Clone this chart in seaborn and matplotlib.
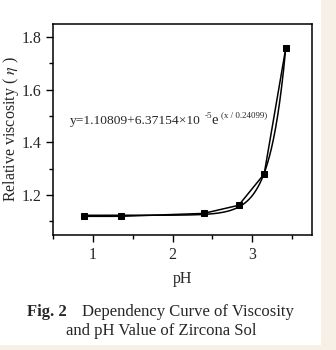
import numpy as np
import pandas as pd
import matplotlib
matplotlib.use("Agg")
import matplotlib.pyplot as plt
from matplotlib.patches import Rectangle
from matplotlib.ticker import MultipleLocator
import seaborn as sns

# data
ph = [0.89, 1.35, 2.39, 2.83, 3.15, 3.42]
viscosity = [1.119, 1.119, 1.130, 1.161, 1.280, 1.757]
x_ticks = [1, 2, 3]
y_ticks = [1.2, 1.4, 1.6, 1.8]
eq_main = "y=1.10809+6.37154\u00d710"
eq_pow = "-5"
eq_e = "e"
eq_exp = "(x / 0.24099)"

sns.set_style("ticks")
plt.rcParams["font.family"] = ["Liberation Serif", "DejaVu Serif"]
plt.rcParams["mathtext.fontset"] = "stix"
plt.rcParams["mathtext.default"] = "regular"

df = pd.DataFrame({"pH": ph, "visc": viscosity})

# exponential-growth fit y = y0 + A*exp(x/t) from the data
xa = np.array(ph); ya = np.array(viscosity)
best = None
for t in np.linspace(0.05, 1.0, 2000):
    M = np.column_stack([np.ones_like(xa), np.exp(xa / t)])
    coef, *_ = np.linalg.lstsq(M, ya, rcond=None)
    sse = np.sum((M @ coef - ya) ** 2)
    if best is None or sse < best[0]:
        best = (sse, t, coef)
_, tb, cb = best
xf = np.linspace(xa.min(), xa.max(), 200)
fit = pd.DataFrame({"pH": xf, "visc": cb[0] + cb[1] * np.exp(xf / tb)})

W, H = 336, 350
fig = plt.figure(figsize=(W / 100, H / 100), dpi=100)
fig.patch.set_facecolor("#f6f0e6")
fig.patches.append(Rectangle((0, 5 / H), 321 / W, 345 / H, transform=fig.transFigure,
                             facecolor="white", edgecolor="none", zorder=-10))
ax = fig.add_axes([53 / W, 115 / H, 259 / W, 211 / H])
ax.set_facecolor("white")

sns.lineplot(data=fit, x="pH", y="visc", ax=ax, color="black", lw=1.1, zorder=2)
sns.lineplot(data=df, x="pH", y="visc", ax=ax, color="black", lw=1.1,
             marker="s", markersize=4.8, markeredgecolor="black", zorder=3)

ax.set_xlim(0.5, 3.75)
ax.set_ylim(1.048, 1.85)
ax.set_xticks(x_ticks)
ax.set_yticks(y_ticks)
ax.xaxis.set_minor_locator(MultipleLocator(0.5))
ax.yaxis.set_minor_locator(MultipleLocator(0.1))
ax.tick_params(which="major", direction="out", length=5, width=1, labelsize=11.5, color="black")
ax.tick_params(which="minor", direction="out", length=3, width=1, color="black")
for s in ax.spines.values():
    s.set_linewidth(1.1)
    s.set_color("black")

ax.set_xlabel("pH", fontsize=11.5, labelpad=6)
ax.set_ylabel(r"Relative viscosity ( $\mathit{\eta}$ )", fontsize=11.5)
ax.yaxis.set_label_coords(-0.125, 0.5)

def ftext(px, py, s, **kw):
    fig.text(px / W, 1 - py / H, s, va="baseline", **kw)

ftext(70, 124, eq_main, fontsize=9.7)
ftext(205, 118, eq_pow, fontsize=6.5)
ftext(211, 124, eq_e, fontsize=10.5)
ftext(221, 117, eq_exp, fontsize=6.5)

ftext(27, 316, "Fig. 2", fontsize=12, fontweight="bold")
ftext(82, 316, "Dependency Curve of Viscosity", fontsize=12)
ftext(161, 335, "and pH Value of Zircona Sol", fontsize=12, ha="center")

fig.savefig("out.png", dpi=100, facecolor=fig.get_facecolor())
